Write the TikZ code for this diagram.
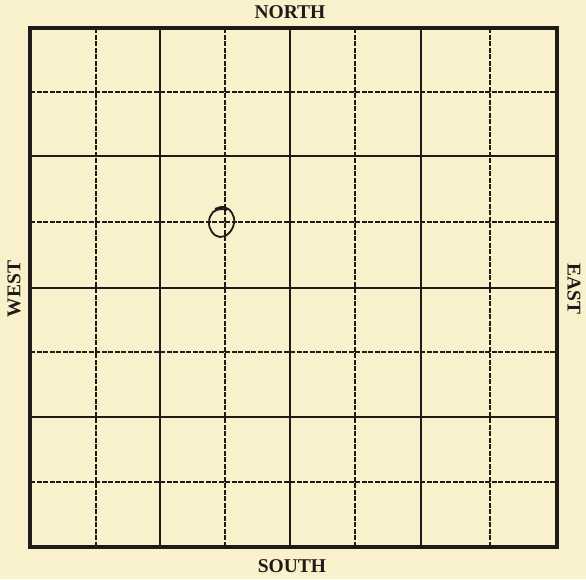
\documentclass[tikz,border=0pt]{standalone}
\usepackage{fontspec}
\setmainfont{Liberation Serif}
\definecolor{paper}{RGB}{249,240,204}
\definecolor{ink}{RGB}{30,27,24}
\tikzset{
  outerbox/.style={draw=ink, line width=3.2pt},
  solidline/.style={draw=ink, line width=1.9pt},
  dashline/.style={draw=ink, line width=1.5pt, dash pattern=on 5pt off 1.5pt},
  circ/.style={draw=ink, line width=1.8pt},
  compass/.style={font=\fontsize{19.5}{21}\selectfont\bfseries, text=ink, inner sep=0pt}
}
\begin{document}
\begin{tikzpicture}[x=1pt,y=-1pt]
\fill[paper] (0,0) rectangle (586,579);
\useasboundingbox (0,0) rectangle (586,579);
% dashed lines
\foreach \x in {96,225,355,490} \path[dashline] (\x,28) -- (\x,547);
\foreach \y in {92,222,352,482} \path[dashline] (30,\y) -- (557,\y);
% solid lines
\foreach \x in {160,290,421} \path[solidline] (\x,28) -- (\x,547);
\foreach \y in {156,288,417} \path[solidline] (30,\y) -- (557,\y);
% outer box
\path[outerbox] (30,28) rectangle (557,547);
% hand-drawn circle
\path[circ] plot[smooth, tension=0.7] coordinates {(215,209) (224,207) (232,213) (234,223) (229,233) (220,237) (212,232) (209,222) (213,212) (222,209) (227,210)};
% labels
\node[compass] (north) at (290,12) {NORTH};
\node[compass] (south) at (292,566) {SOUTH};
\node[compass, rotate=90] (west) at (14,289) {WEST};
\node[compass, rotate=-90] (east) at (574,289) {EAST};
\end{tikzpicture}
\end{document}
